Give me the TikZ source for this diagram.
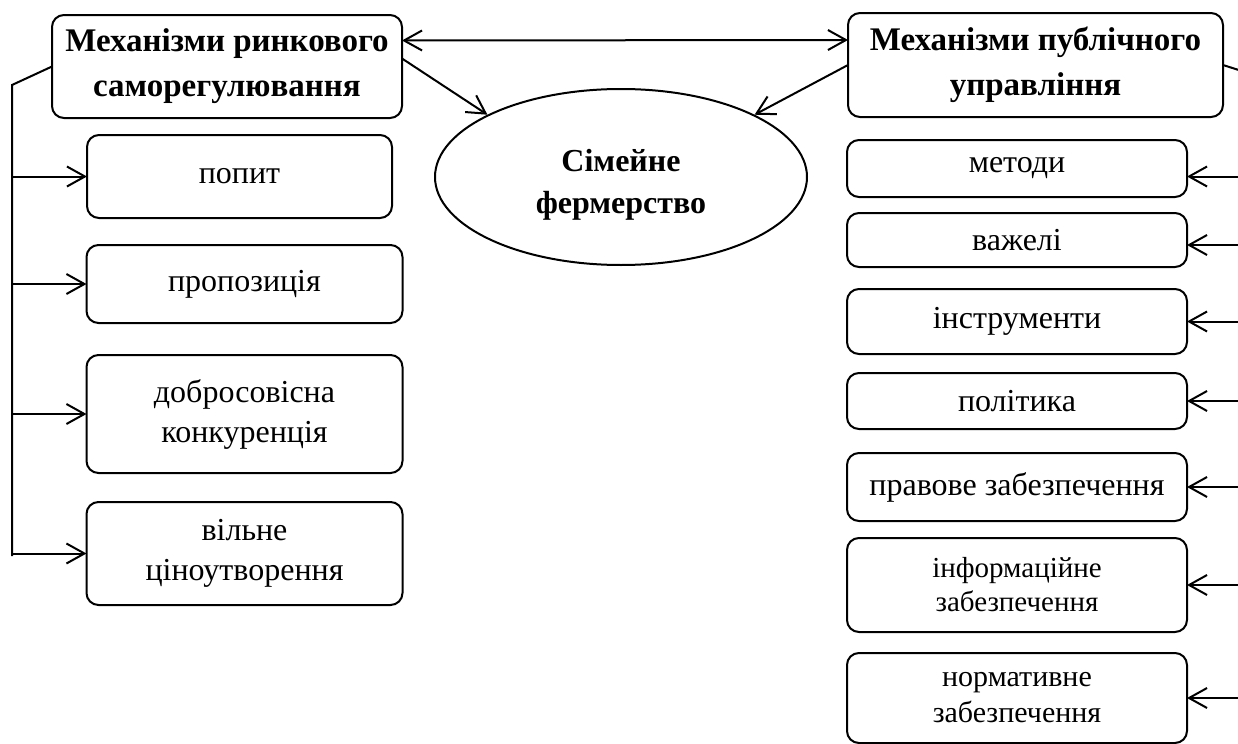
\documentclass[tikz,border=0pt]{standalone}
\usepackage{fontspec}
\setmainfont{Liberation Serif}
\usetikzlibrary{shapes.geometric, arrows.meta, positioning}

\begin{document}
\begin{tikzpicture}[
    x=0.5pt, y=-0.5pt,
    box/.style={rectangle, draw=black, line width=1pt, rounded corners=6pt, align=center, inner sep=2pt, outer sep=0pt, font=\fontsize{16}{20}\selectfont},
    head/.style={box, font=\bfseries\fontsize{16.5}{22.5}\selectfont},
    small/.style={box, font=\fontsize{14.5}{17}\selectfont},
    leftbox/.style={box, minimum width=158pt},
    rightbox/.style={box, minimum width=170pt},
    arrow/.style={-{Straight Barb[length=9pt,width=10pt]}, line width=1pt},
    wire/.style={line width=1pt}
]
\useasboundingbox (0,0) rectangle (1238,744);
\clip (0,0) rectangle (1238,744);

% Nodes
\node[head, minimum width=175pt, minimum height=51.5pt] (market) at (227,66.5) {Механізми ринкового\\саморегулювання};
\node[head, minimum width=187.5pt, minimum height=52pt] (public) at (1035.5,65) {Механізми публічного\\управління};
\node[ellipse, draw=black, line width=1pt, minimum width=186pt, minimum height=88pt, inner sep=0pt, align=center, font=\bfseries\fontsize{16}{21}\selectfont] (farm) at (621,177) {\rule{0pt}{19pt}Сімейне\\фермерство};

% Left column
\node[box, minimum width=152.5pt, minimum height=41.5pt] (demand) at (239.5,176.5) {попит};
\node[leftbox, minimum height=39pt] (supply) at (244.5,284) {пропозиція};
\node[leftbox, minimum height=59pt, below=16pt of supply] (compet) {добросовісна\\конкуренція};
\node[leftbox, minimum height=51.5pt, below=14.5pt of compet] (pricing) {вільне\\ціноутворення};

% Right column
\node[rightbox, minimum height=28.5pt] (methods) at (1017,168.5) {методи};
\node[rightbox, minimum height=27pt, below=8pt of methods] (levers) {важелі};
\node[rightbox, minimum height=32.5pt, below=11pt of levers] (tools) {інструменти};
\node[rightbox, minimum height=28pt, below=9.5pt of tools] (policy) {політика};
\node[rightbox, minimum height=34pt, below=12pt of policy] (legal) {правове забезпечення};
\node[rightbox, small, minimum height=47pt, below=8.5pt of legal] (info) {інформаційне\\забезпечення};
\node[rightbox, small, font=\fontsize{15}{18}\selectfont, minimum height=45pt, below=10.5pt of info] (norm) {нормативне\\забезпечення};

% Buses
\coordinate (lbtop) at (12,85);
\coordinate (lbbot) at (12,556);
\coordinate (rbtop) at (1245,72);

% Arrows
\draw[{Straight Barb[length=9pt,width=10pt]}-{Straight Barb[length=9pt,width=10pt]}, line width=1pt] ([yshift=13pt]market.east) -- ([yshift=12.5pt]public.west);
\draw[arrow] ([yshift=4pt]market.east) -- (farm.155);
\draw[arrow] (public.west) -- (farm.25);

\draw[wire] (market.west) -- (lbtop) -- (lbbot);
\foreach \n in {demand, supply, compet, pricing}
    \draw[arrow] (lbtop |- \n) -- (\n);

\draw[wire] (public.east) -- (rbtop) -- (rbtop |- norm);
\draw[arrow] ([yshift=-4pt]rbtop |- methods) -- ([yshift=-4pt]methods.east);
\draw[arrow] ([yshift=-2.5pt]rbtop |- levers) -- ([yshift=-2.5pt]levers.east);
\foreach \n in {tools, policy, legal, info, norm}
    \draw[arrow] (rbtop |- \n) -- (\n);

\end{tikzpicture}
\end{document}
